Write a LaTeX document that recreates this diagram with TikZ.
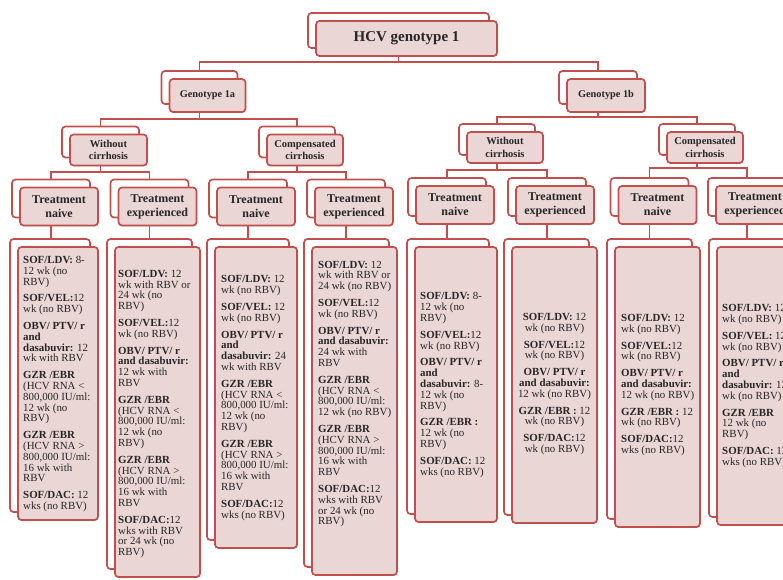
\documentclass[tikz,border=0pt]{standalone}
\usepackage{fontspec}
\setmainfont{Liberation Serif}
\usetikzlibrary{shadows}
\definecolor{boxred}{HTML}{C0504D}
\definecolor{boxpink}{HTML}{EBD6D6}
\definecolor{txt}{HTML}{262626}
\tikzset{
  backbox/.style={draw=boxred, line width=1.7pt, fill=white, rounded corners=3.5pt, inner sep=0pt},
  frontbox/.style={draw=boxred, line width=1.7pt, fill=boxpink, rounded corners=3.5pt, inner sep=0pt,
    align=center, text=txt, drop shadow={shadow xshift=0.6pt, shadow yshift=-0.9pt, opacity=0.35, fill=black!60}},
  conn/.style={draw=boxred, line width=1.7pt},
  leaftxt/.style={inner sep=0pt, text=txt, font=\fontsize{10.9}{10.8}\selectfont, align=left, anchor=west},
  rootfont/.style={font=\fontsize{15}{17}\selectfont\bfseries},
  genfont/.style={font=\fontsize{10.3}{12}\selectfont\bfseries},
  cirfont/.style={font=\fontsize{10.5}{12.5}\selectfont\bfseries},
  trtfont/.style={font=\fontsize{12}{14}\selectfont\bfseries},
  leafbox/.style={},
}
\newcommand{\dbox}[7]{%
  \node[backbox, minimum width=#4pt, minimum height=#5pt] (#1b) at (#2-8,#3-8) {};
  \node[frontbox, minimum width=#4pt, minimum height=#5pt, #6] (#1) at (#2,#3) {#7};}
\begin{document}
\begin{tikzpicture}[x=1pt,y=-1pt]
\useasboundingbox (0,0) rectangle (783,579);
\fill[white] (0,0) rectangle (783,579);
% bus coordinates
\coordinate (busA) at (0,62);
\coordinate (busB1) at (0,119);
\coordinate (busB2) at (0,117);
\coordinate (busC1) at (0,172);
\coordinate (busC2) at (0,172);
\coordinate (busC3) at (0,170);
\coordinate (busC4) at (0,168);
% boxes
\dbox{root}{406.5}{38.5}{181}{35}{rootfont}{HCV genotype 1}
\dbox{ga}{207.5}{95.5}{76}{33}{genfont}{Genotype 1a}
\dbox{gb}{606}{95.5}{78}{33}{genfont}{Genotype 1b}
\dbox{wa}{108.5}{150}{77}{31}{cirfont}{Without\\cirrhosis}
\dbox{ca}{305}{150}{76}{31}{cirfont}{Compensated\\cirrhosis}
\dbox{wb}{505}{147.5}{76}{31}{cirfont}{Without\\cirrhosis}
\dbox{cb}{705}{147.5}{76}{31}{cirfont}{Compensated\\cirrhosis}
\dbox{tan}{59}{206.5}{78}{38}{trtfont}{Treatment\\naive}
\dbox{tae}{157.5}{206.5}{78}{38}{trtfont}{Treatment\\experienced}
\dbox{tcn}{256}{206.5}{78}{38}{trtfont}{Treatment\\naive}
\dbox{tce}{354}{206.5}{78}{38}{trtfont}{Treatment\\experienced}
\dbox{tbn}{455}{205}{78}{38}{trtfont}{Treatment\\naive}
\dbox{tbe}{555}{205}{78}{38}{trtfont}{Treatment\\experienced}
\dbox{tdn}{657.5}{205}{78}{38}{trtfont}{Treatment\\naive}
\dbox{tde}{755}{205}{78}{38}{trtfont}{Treatment\\experienced}
% leaves
\dbox{la}{58}{383.5}{80}{273}{leafbox}{}
\dbox{lb}{157.5}{412}{85}{330}{leafbox}{}
\dbox{lc}{256}{397.5}{82}{301}{leafbox}{}
\dbox{ld}{354.5}{411}{85}{328}{leafbox}{}
\dbox{le}{456}{384.5}{82}{275}{leafbox}{}
\dbox{lf}{554.5}{385}{85}{276}{leafbox}{}
\dbox{lg}{657.5}{387}{85}{280}{leafbox}{}
\dbox{lh}{759.5}{386}{85}{278}{leafbox}{}
% connectors
\draw[conn] ([xshift=-8pt]root.south) -- ([xshift=-8pt]root.south |- busA);
\draw[conn] (gab.north) |- (gbb.north |- busA) -- (gbb.north);
\draw[conn] ([xshift=-8pt]ga.south) -- ([xshift=-8pt]ga.south |- busB1);
\draw[conn] (wab.north) |- (cab.north |- busB1) -- (cab.north);
\draw[conn] ([xshift=-8pt]gb.south) -- ([xshift=-8pt]gb.south |- busB2);
\draw[conn] (wbb.north) |- (cbb.north |- busB2) -- (cbb.north);
\draw[conn] ([xshift=-8pt]wa.south) -- ([xshift=-8pt]wa.south |- busC1);
\draw[conn] (tanb.north) |- (taeb.north |- busC1) -- (taeb.north);
\draw[conn] ([xshift=-8pt]ca.south) -- ([xshift=-8pt]ca.south |- busC2);
\draw[conn] (tcnb.north) |- (tceb.north |- busC2) -- (tceb.north);
\draw[conn] ([xshift=-8pt]wb.south) -- ([xshift=-8pt]wb.south |- busC3);
\draw[conn] (tbnb.north) |- (tbeb.north |- busC3) -- (tbeb.north);
\draw[conn] ([xshift=-8pt]cb.south) -- ([xshift=-8pt]cb.south |- busC4);
\draw[conn] (tdnb.north) |- (tdeb.north |- busC4) -- (tdeb.north);
\draw[conn] ([xshift=-8pt]tan.south) -- ([xshift=-8pt]tan.south |- lab.north);
\draw[conn] ([xshift=-8pt]tae.south) -- ([xshift=-8pt]tae.south |- lbb.north);
\draw[conn] ([xshift=-8pt]tcn.south) -- ([xshift=-8pt]tcn.south |- lcb.north);
\draw[conn] ([xshift=-8pt]tce.south) -- ([xshift=-8pt]tce.south |- ldb.north);
\draw[conn] ([xshift=-8pt]tbn.south) -- ([xshift=-8pt]tbn.south |- leb.north);
\draw[conn] ([xshift=-8pt]tbe.south) -- ([xshift=-8pt]tbe.south |- lfb.north);
\draw[conn] ([xshift=-8pt]tdn.south) -- ([xshift=-8pt]tdn.south |- lgb.north);
\draw[conn] ([xshift=-8pt]tde.south) -- ([xshift=-8pt]tde.south |- lhb.north);
% leaf texts
\node[leaftxt] (ta) at (23,384) {\textbf{SOF/LDV:} 8-\\12 wk (no\\RBV)\\[6pt]
\textbf{SOF/VEL:}12\\wk (no RBV)\\[6pt]
\textbf{OBV/ PTV/ r}\\\textbf{and}\\\textbf{dasabuvir:} 12\\wk with RBV\\[6pt]
\textbf{GZR /EBR}\\(HCV RNA <\\800,000 IU/ml:\\12 wk (no\\RBV)\\[6pt]
\textbf{GZR /EBR}\\(HCV RNA >\\800,000 IU/ml:\\16 wk with\\RBV\\[6pt]
\textbf{SOF/DAC:} 12\\wks (no RBV)};
\node[leaftxt] (tb) at (118,414) {\textbf{SOF/LDV:} 12\\wk with RBV or\\24 wk (no\\RBV)\\[6pt]
\textbf{SOF/VEL:}12\\wk (no RBV)\\[6pt]
\textbf{OBV/ PTV/ r}\\\textbf{and dasabuvir:}\\12 wk with\\RBV\\[6pt]
\textbf{GZR /EBR}\\(HCV RNA <\\800,000 IU/ml:\\12 wk (no\\RBV)\\[6pt]
\textbf{GZR /EBR}\\(HCV RNA >\\800,000 IU/ml:\\16 wk with\\RBV\\[6pt]
\textbf{SOF/DAC:}12\\wks with RBV\\or 24 wk (no\\RBV)};
\node[leaftxt] (tc) at (221,398) {\textbf{SOF/LDV:} 12\\wk (no RBV)\\[6pt]
\textbf{SOF/VEL:} 12\\wk (no RBV)\\[6pt]
\textbf{OBV/ PTV/ r}\\\textbf{and}\\\textbf{dasabuvir:} 24\\wk with RBV\\[6pt]
\textbf{GZR /EBR}\\(HCV RNA <\\800,000 IU/ml:\\12 wk (no\\RBV)\\[6pt]
\textbf{GZR /EBR}\\(HCV RNA >\\800,000 IU/ml:\\16 wk with\\RBV\\[6pt]
\textbf{SOF/DAC:}12\\wks (no RBV)};
\node[leaftxt] (td) at (318,394) {\textbf{SOF/LDV:} 12\\wk with RBV or\\24 wk (no RBV)\\[6pt]
\textbf{SOF/VEL:}12\\wk (no RBV)\\[6pt]
\textbf{OBV/ PTV/ r}\\\textbf{and dasabuvir:}\\24 wk with\\RBV\\[6pt]
\textbf{GZR /EBR}\\(HCV RNA <\\800,000 IU/ml:\\12 wk (no RBV)\\[6pt]
\textbf{GZR /EBR}\\(HCV RNA >\\800,000 IU/ml:\\16 wk with\\RBV\\[6pt]
\textbf{SOF/DAC:}12\\wks with RBV\\or 24 wk (no\\RBV)};
\node[leaftxt] (te) at (420,385) {\textbf{SOF/LDV:} 8-\\12 wk (no\\RBV)\\[6pt]
\textbf{SOF/VEL:}12\\wk (no RBV)\\[6pt]
\textbf{OBV/ PTV/ r}\\\textbf{and}\\\textbf{dasabuvir:} 8-\\12 wk (no\\RBV)\\[6pt]
\textbf{GZR /EBR :}\\12 wk (no\\RBV)\\[6pt]
\textbf{SOF/DAC:} 12\\wks (no RBV)};
\node[leaftxt, align=center, anchor=center] (tf) at (554.5,384) {\textbf{SOF/LDV:} 12\\wk (no RBV)\\[6pt]
\textbf{SOF/VEL:}12\\wk (no RBV)\\[6pt]
\textbf{OBV/ PTV/ r}\\\textbf{and dasabuvir:}\\12 wk (no RBV)\\[6pt]
\textbf{GZR /EBR :} 12\\wk (no RBV)\\[6pt]
\textbf{SOF/DAC:}12\\wk (no RBV)};
\node[leaftxt] (tg) at (621,385) {\textbf{SOF/LDV:} 12\\wk (no RBV)\\[6pt]
\textbf{SOF/VEL:}12\\wk (no RBV)\\[6pt]
\textbf{OBV/ PTV/ r}\\\textbf{and dasabuvir:}\\12 wk (no RBV)\\[6pt]
\textbf{GZR /EBR :} 12\\wk (no RBV)\\[6pt]
\textbf{SOF/DAC:}12\\wks (no RBV)};
\node[leaftxt] (th) at (722,386) {\textbf{SOF/LDV:} 12\\wk (no RBV)\\[6pt]
\textbf{SOF/VEL:} 12\\wk (no RBV)\\[6pt]
\textbf{OBV/ PTV/ r}\\\textbf{and}\\\textbf{dasabuvir:} 12\\wk (no RBV)\\[6pt]
\textbf{GZR /EBR}\\12 wk (no\\RBV)\\[6pt]
\textbf{SOF/DAC:} 12\\wks (no RBV)};
\end{tikzpicture}
\end{document}
